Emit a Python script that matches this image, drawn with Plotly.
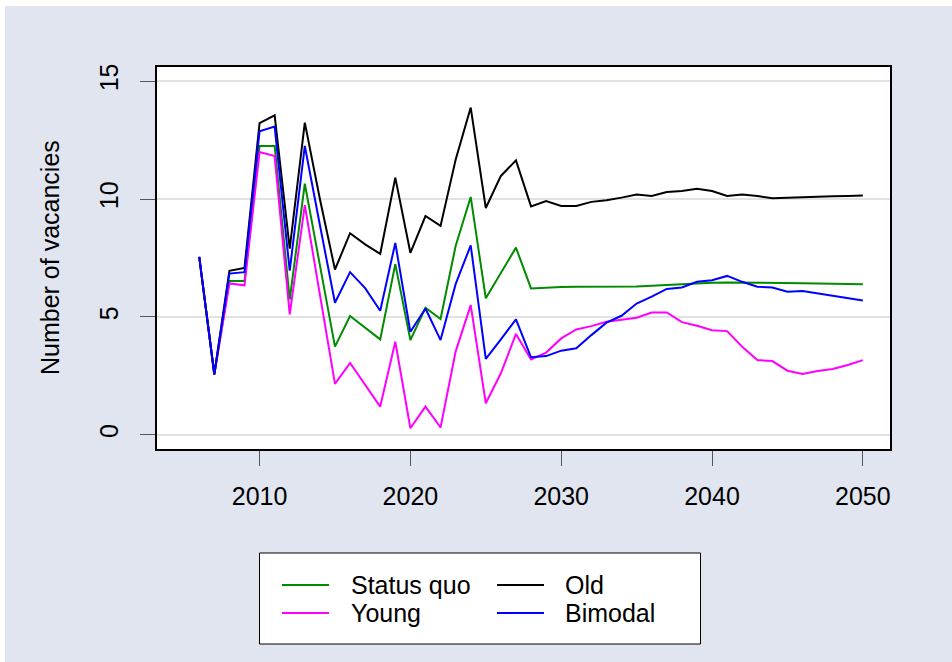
import plotly.graph_objects as go

# ---- data -------------------------------------------------------------
years = list(range(2006, 2051))

status_quo = [7.55, 2.57, 6.52, 6.52, 12.25, 12.25, 5.74, 10.65, 7.20, 3.74,
              5.04, 4.53, 4.05, 7.24, 4.02, 5.39, 4.91, 8.01, 10.09, 5.79,
              6.84, 7.94, 6.21, 6.25, 6.27, 6.28, 6.28, 6.28, 6.28, 6.29,
              6.32, 6.36, 6.39, 6.42, 6.45, 6.46, 6.46, 6.46, 6.46, 6.45,
              6.43, 6.42, 6.41, 6.40, 6.39]

young = [7.55, 2.57, 6.42, 6.34, 11.99, 11.82, 5.11, 9.74, 5.95, 2.16,
         3.05, 2.15, 1.20, 3.95, 0.28, 1.20, 0.31, 3.53, 5.50, 1.34,
         2.61, 4.28, 3.20, 3.49, 4.09, 4.47, 4.61, 4.80, 4.90, 4.97,
         5.19, 5.19, 4.78, 4.63, 4.44, 4.40, 3.74, 3.17, 3.13, 2.72,
         2.58, 2.71, 2.79, 2.96, 3.17]

old = [7.55, 2.57, 6.96, 7.08, 13.22, 13.55, 7.90, 13.24, 10.00, 7.01,
       8.55, 8.08, 7.68, 10.91, 7.72, 9.28, 8.86, 11.67, 13.88, 9.62,
       10.98, 11.64, 9.69, 9.91, 9.71, 9.71, 9.88, 9.95, 10.06, 10.19,
       10.13, 10.30, 10.34, 10.44, 10.34, 10.13, 10.19, 10.13, 10.03, 10.06,
       10.07, 10.09, 10.12, 10.13, 10.15]

bimodal = [7.55, 2.57, 6.84, 6.90, 12.87, 13.07, 6.96, 12.25, 8.90, 5.60,
           6.90, 6.22, 5.26, 8.14, 4.37, 5.36, 4.02, 6.39, 8.04, 3.22,
           4.05, 4.90, 3.29, 3.34, 3.57, 3.67, 4.23, 4.76, 5.05, 5.57,
           5.86, 6.19, 6.25, 6.49, 6.56, 6.74, 6.49, 6.28, 6.25, 6.07,
           6.10, 6.00, 5.88, 5.81, 5.70]

series_names = ["Status quo", "Young", "Old", "Bimodal"]
series_values = [status_quo, young, old, bimodal]
series_colors = ["#008B00", "#FF00FF", "#000000", "#0000FF"]

x_ticks = [2010, 2020, 2030, 2040, 2050]
y_ticks = [0, 5, 10, 15]
y_title = "Number of vacancies"

# ---- layout geometry (pixels) ------------------------------------------
W, H = 952, 662
L, R, T, B = 157, 890, 67, 449
BG = "#E0E5F0"
FONT = "Liberation Sans, Arial, sans-serif"
FS = 25


def px_x(px):
    return (px - L) / (R - L)


def px_y(py):
    return (B - py) / (B - T)


fig = go.Figure()
for name, vals, col in zip(series_names, series_values, series_colors):
    fig.add_trace(go.Scatter(x=years, y=vals, mode="lines", name=name,
                             line=dict(color=col, width=2),
                             showlegend=False))

shapes = []
annotations = []

# thin white strips along the top and left edge of the page
shapes.append(dict(type="rect", xref="paper", yref="paper",
                   x0=px_x(0), x1=px_x(W), y0=px_y(6), y1=px_y(0),
                   fillcolor="white", line=dict(width=0), layer="below"))
shapes.append(dict(type="rect", xref="paper", yref="paper",
                   x0=px_x(0), x1=px_x(5), y0=px_y(H), y1=px_y(0),
                   fillcolor="white", line=dict(width=0), layer="below"))

# legend box, two columns
lx0, lx1, ly0, ly1 = 259.5, 700.5, 553, 644
shapes.append(dict(type="rect", xref="paper", yref="paper",
                   x0=px_x(lx0), x1=px_x(lx1), y0=px_y(ly1), y1=px_y(ly0),
                   fillcolor="white", line=dict(color="black", width=1)))
col_line_x = [282, 497]
col_text_x = [349, 563]
row_y = [585, 613]
legend_order = [(0, 0), (1, 0), (0, 1), (1, 1)]  # (row, col) per series
for (row, col), name, color in zip(legend_order, series_names, series_colors):
    yy = px_y(row_y[row])
    shapes.append(dict(type="line", xref="paper", yref="paper",
                       x0=px_x(col_line_x[col]), x1=px_x(col_line_x[col] + 47),
                       y0=yy, y1=yy, line=dict(color=color, width=2)))
    annotations.append(dict(xref="paper", yref="paper",
                            x=px_x(col_text_x[col]), y=yy,
                            xanchor="left", yanchor="middle", showarrow=False,
                            text=name, font=dict(family=FONT, size=FS, color="black")))

# y-axis title
annotations.append(dict(xref="paper", yref="paper", x=px_x(50), y=0.5,
                        xanchor="center", yanchor="middle", showarrow=False,
                        textangle=-90, text=y_title,
                        font=dict(family=FONT, size=FS, color="black")))

fig.update_layout(
    width=W, height=H,
    margin=dict(l=L, r=W - R, t=T, b=H - B, pad=0),
    paper_bgcolor=BG, plot_bgcolor="white",
    font=dict(family=FONT, size=FS, color="black"),
    shapes=shapes, annotations=annotations,
    showlegend=False,
)
fig.update_xaxes(range=[2003.2, 2051.8], tickvals=x_ticks, ticks="outside",
                 ticklen=15, tickwidth=1, tickcolor="#555555",
                 showgrid=False, zeroline=False,
                 showline=True, linecolor="black", linewidth=1.5, mirror=True,
                 ticklabelstandoff=9,
                 tickfont=dict(family=FONT, size=FS, color="black"))
fig.update_yaxes(range=[-0.6, 15.6], tickvals=y_ticks, ticks="outside",
                 ticklen=15, tickwidth=1, tickcolor="#555555",
                 showgrid=True, gridcolor="#E2E2E2", gridwidth=1.5,
                 zeroline=False, tickangle=-90,
                 showline=True, linecolor="black", linewidth=1.5, mirror=True,
                 ticklabelstandoff=12,
                 tickfont=dict(family=FONT, size=FS, color="black"))

fig.write_html("out.html")
